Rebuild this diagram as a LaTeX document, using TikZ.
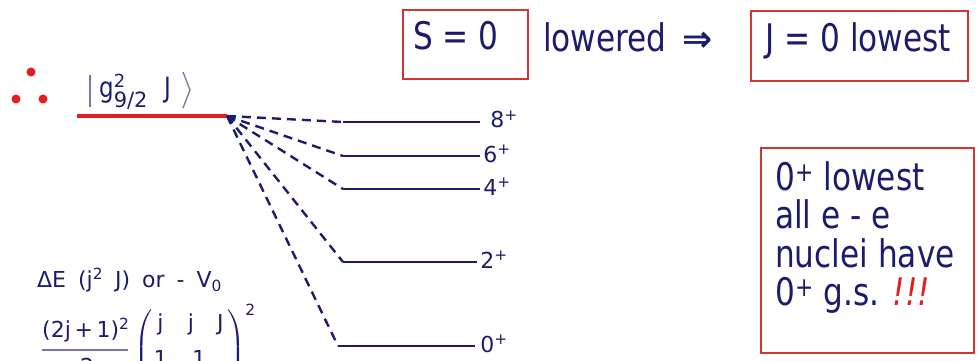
\documentclass[tikz,border=0pt]{standalone}
\usepackage{amsmath}
\usepackage{fontspec}
\setmainfont{DejaVu Sans}[FakeStretch=0.82]
\newfontfamily\plainfont{DejaVu Sans}
\usetikzlibrary{positioning}

\definecolor{inkblue}{RGB}{28,28,110}
\definecolor{boxred}{RGB}{214,52,52}
\definecolor{dotred}{RGB}{228,30,30}

\begin{document}
\begin{tikzpicture}[x=1pt,y=-1pt,
    big/.style={font=\fontsize{38}{38.5}\selectfont, text=inkblue, inner sep=0pt},
    small/.style={font=\plainfont\fontsize{22}{26}\selectfont, text=inkblue, inner sep=0pt},
    redbox/.style={draw=boxred, line width=2.2pt, inner sep=0pt},
    level/.style={draw=inkblue, line width=2.6pt},
    split/.style={draw=inkblue, line width=2.4pt, dash pattern=on 9pt off 6pt},
    thinline/.style={draw=inkblue!60, line width=1.3pt},
    dot/.style={circle, fill=dotred, inner sep=0pt, minimum size=9pt}]
  \useasboundingbox (0,0) rectangle (978,361);
  \clip (0,0) rectangle (978,361);

  % two g9/2 nucleons
  \node[dot] (d1) at (31,72) {};
  \node[dot] (d2) at (16,99) {};
  \node[dot] (d3) at (43,99) {};
  \node[font=\fontsize{28}{30}\selectfont, text=inkblue, inner sep=0pt, anchor=base west]
    (ket) at (99,97) {$\text{g}^{\text{\plainfont\fontsize{18}{18}\selectfont 2}}_{\text{\plainfont\fontsize{21}{21}\selectfont 9/2}}$\hspace{16pt}J};
  \draw[thinline] (90,75) -- (90,107);
  \draw[thinline] (183,72) -- (190,90) -- (183,108);
  \coordinate (gl) at (77,116);
  \coordinate (gr) at (227,116);
  \draw[draw=dotred, line width=4pt] (gl) -- (gr);

  % split levels
  \foreach \j/\y/\xl/\xr/\gap in {8/122/343/480/9, 6/156/343/480/2, 4/189/343/480/2,
                                  2/262/343/477/2, 0/346/338/475/4} {
    \coordinate (l\j) at (\xl,\y);
    \draw[level] (l\j) -- (\xr,\y)
      node[small, anchor=base west, xshift=\gap pt, yshift=-6pt] (t\j) {\j\textsuperscript{+}};
    \draw[split] (gr) -- (l\j);
  }

  % pairing statements
  \node[redbox, minimum width=125pt, minimum height=69pt, anchor=north west] (sbox) at (402,9) {};
  \node[big, anchor=base west] (s0) at (413,50) {S = 0};
  \node[big, anchor=base west] (low) at (543,52) {lowered};
  \node[text=inkblue, font=\plainfont\bfseries\fontsize{36}{36}\selectfont, inner sep=0pt, anchor=base west]
    (imp) at (682,52) {⇒};
  \node[redbox, minimum width=217pt, minimum height=70pt, anchor=north west] (jbox) at (750,10) {};
  \node[big, anchor=base west] (j0) at (765,52) {J = 0 lowest};

  \node[redbox, minimum width=213pt, minimum height=205pt, anchor=north west] (rbox) at (760,147) {};
  \node[big, anchor=north west, align=left] (rtext) at (775,161)
    {0\textsuperscript{+} lowest\\all e - e\\nuclei have\\0\textsuperscript{+} g.s. {\color{dotred}\itshape !!!}};

  % energy shift
  \node[small, anchor=base west] (de) at (37,287)
    {\spaceskip=12pt ΔE (j\textsuperscript{2} J) or - V\textsubscript{0}};
  \node[small, anchor=base west] (num) at (42,337) {(2j\,+\,1)\textsuperscript{2}};
  \draw[thinline] (42,350) -- (128,350);
  \node[small, anchor=base] (den) at (87,374) {2};
  \node[small, anchor=north west] (cg) at (134,304)
    {\arraycolsep=3pt$\left(\begin{array}{@{}ccc@{}}\text{j}&\text{j}&\text{J}\\[12pt]
      \dfrac{\text{1}}{\text{2}}&-\dfrac{\text{1}}{\text{2}}&\text{0}\end{array}\right)^{\text{2}}$};
\end{tikzpicture}
\end{document}
